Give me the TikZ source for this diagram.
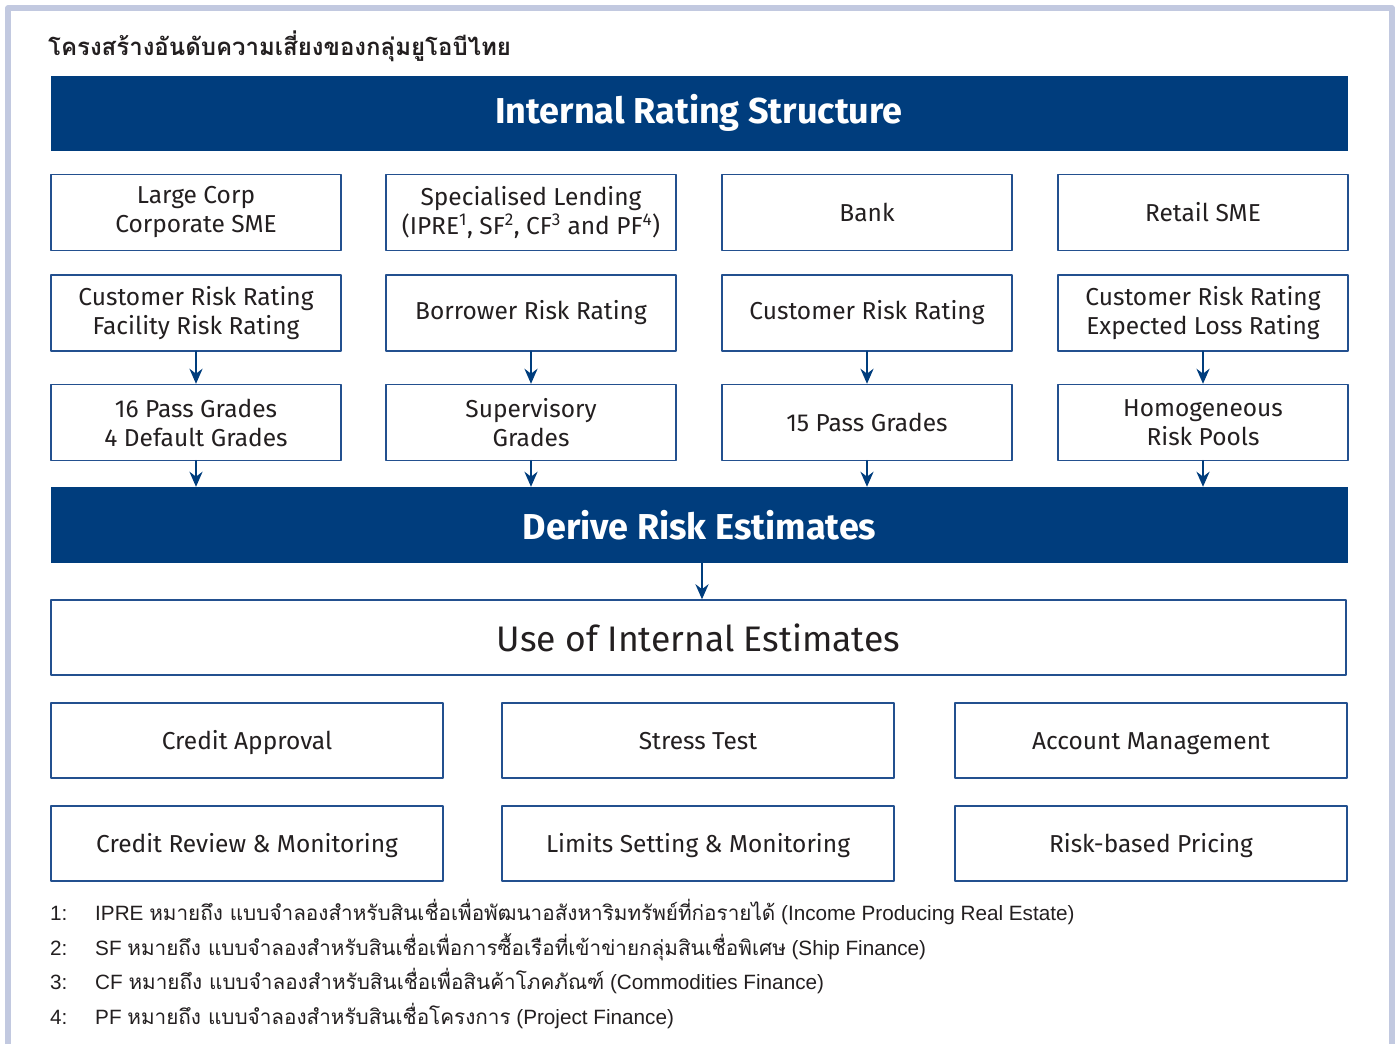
\documentclass[tikz,border=0pt]{standalone}
\usepackage{fontspec}
\setmainfont{Fira Sans}
\newfontfamily\thaifont[Script=Thai]{Loma}
\newfontfamily\notefont{Liberation Sans}
\usetikzlibrary{arrows.meta}
\definecolor{uobblue}{HTML}{003D7D}
\definecolor{boxline}{HTML}{23508F}
\definecolor{framegray}{HTML}{C2C9E0}
\definecolor{txtgray}{HTML}{231F20}

\begin{document}
\begin{tikzpicture}[x=1pt,y=-1pt,line cap=round,line join=round,
  banner/.style={fill=uobblue,text=white,inner sep=0pt,minimum width=1297,minimum height=75,
    font=\fontsize{36}{40}\selectfont\bfseries},
  ratebox/.style={draw=boxline,line width=1.4pt,fill=white,text=txtgray,inner sep=0pt,align=center,
    minimum width=290,minimum height=76,font=\fontsize{24.5}{29}\selectfont},
  usebox/.style={ratebox,minimum width=392,minimum height=75,text height=19pt,text depth=1pt},
  flow/.style={draw=uobblue,line width=2.6pt,-{Stealth[length=15pt,width=13pt]}},
  note/.style={anchor=base west,inner sep=0pt,text=txtgray,font=\notefont\fontsize{20.7}{24}\selectfont}]
\useasboundingbox (0,0) rectangle (1399,1044);
% frame
\draw[framegray,line width=5.5pt,line cap=butt] (8,1044) -- (8,8) -- (1392,8) -- (1392,1044);
\node[anchor=base west,inner sep=0pt,text=txtgray,font=\thaifont\bfseries\fontsize{24}{28}\selectfont] (title) at (48,55) {โครงสร้างอันดับความเสี่ยงของกลุ่มยูโอบีไทย};
% banners
\node[banner] (irs) at (699,113) {Internal Rating Structure};
\node[banner,minimum height=76] (derive) at (699.5,525) {Derive Risk Estimates};
% portfolios
\node[ratebox] (corp) at (196,212.5) {Large Corp\\Corporate SME};
\node[ratebox] (spec) at (531,212.5) {Specialised Lending\\(IPRE\textsuperscript{1}, SF\textsuperscript{2}, CF\textsuperscript{3} and PF\textsuperscript{4})};
\node[ratebox] (bank) at (867,212.5) {Bank};
\node[ratebox] (retail) at (1203,212.5) {Retail SME};
% rating systems
\node[ratebox] (corpR) at (196,313) {Customer Risk Rating\\Facility Risk Rating};
\node[ratebox] (specR) at (531,313) {Borrower Risk Rating};
\node[ratebox] (bankR) at (867,313) {Customer Risk Rating};
\node[ratebox] (retailR) at (1203,313) {Customer Risk Rating\\Expected Loss Rating};
% grades
\node[ratebox] (corpG) at (196,422.5) {16 Pass Grades\\4 Default Grades};
\node[ratebox] (specG) at (531,422.5) {Supervisory\\Grades};
\node[ratebox] (bankG) at (867,422.5) {15 Pass Grades};
\node[ratebox] (retailG) at (1203,422.5) {Homogeneous\\Risk Pools};
\foreach \c in {corp,spec,bank,retail}{
  \draw[flow] (\c R.south) -- (\c G.north);
  \draw[flow] (\c G.south) -- (\c G.south |- derive.north);
}
% use of estimates
\node[ratebox,minimum width=1295,minimum height=75,font=\fontsize{35.5}{40}\selectfont] (use) at (698.5,637.5) {Use of Internal Estimates};
\draw[flow] (derive.south -| 702,0) -- (use.north -| 702,0);
\node[usebox] (approval) at (247,740.5) {Credit Approval};
\node[usebox] (stress) at (698,740.5) {Stress Test};
\node[usebox] (account) at (1151,740.5) {Account Management};
\node[usebox] (review) at (247,843.5) {Credit Review \& Monitoring};
\node[usebox] (limits) at (698,843.5) {Limits Setting \& Monitoring};
\node[usebox] (pricing) at (1151,843.5) {Risk-based Pricing};
% footnotes
\node[note] (n1) at (50,920) {1:};
\node[note] (t1) at (95,920) {IPRE {\thaifont หมายถึง แบบจำลองสำหรับสินเชื่อเพื่อพัฒนาอสังหาริมทรัพย์ที่ก่อรายได้} (Income Producing Real Estate)};
\node[note] (n2) at (50,955) {2:};
\node[note] (t2) at (95,955) {SF {\thaifont หมายถึง แบบจำลองสำหรับสินเชื่อเพื่อการซื้อเรือที่เข้าข่ายกลุ่มสินเชื่อพิเศษ} (Ship Finance)};
\node[note] (n3) at (50,989) {3:};
\node[note] (t3) at (95,989) {CF {\thaifont หมายถึง แบบจำลองสำหรับสินเชื่อเพื่อสินค้าโภคภัณฑ์} (Commodities Finance)};
\node[note] (n4) at (50,1024) {4:};
\node[note] (t4) at (95,1024) {PF {\thaifont หมายถึง แบบจำลองสำหรับสินเชื่อโครงการ} (Project Finance)};
\end{tikzpicture}
\end{document}
